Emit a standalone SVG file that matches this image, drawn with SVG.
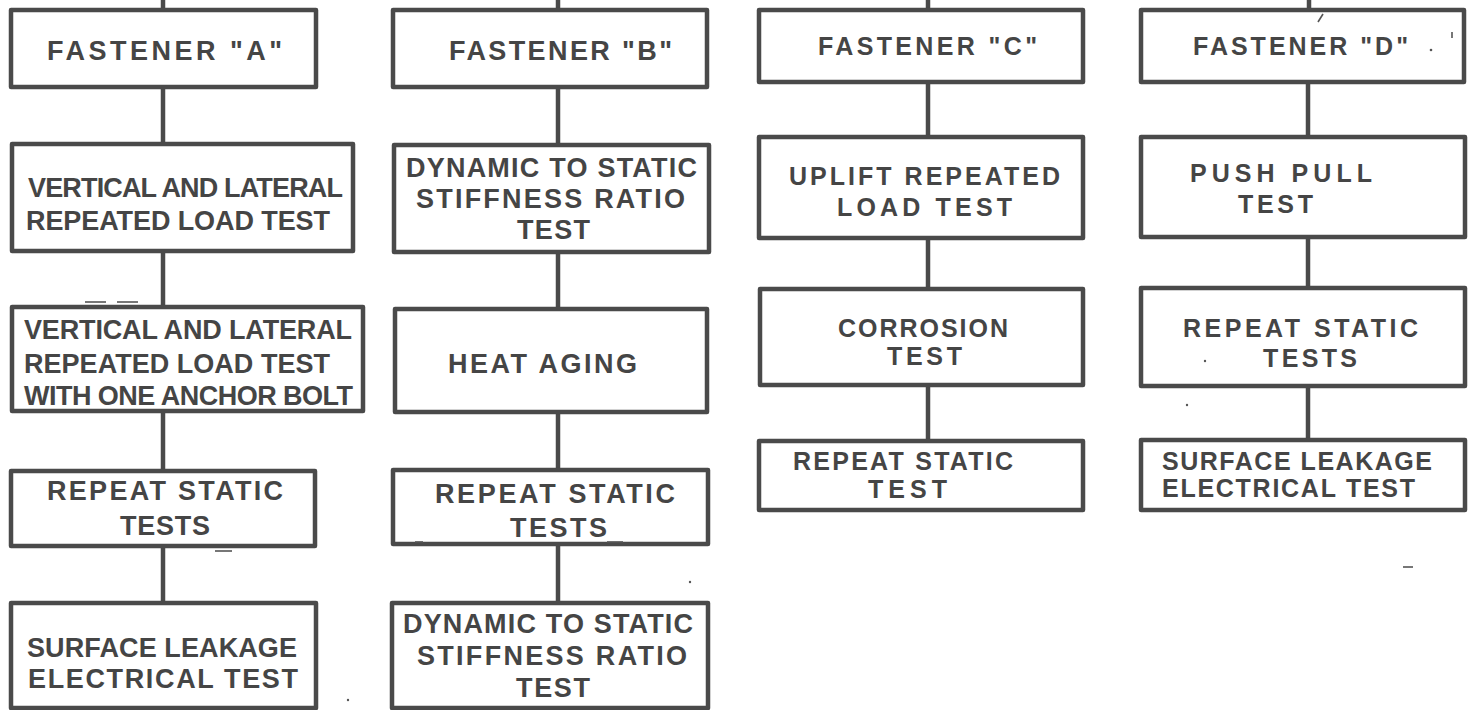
<svg xmlns="http://www.w3.org/2000/svg" width="1474" height="710" viewBox="0 0 1474 710">
<style>
.box{fill:#fff;stroke:#4a4a4a;stroke-width:4.5;stroke-linejoin:round}
.ln{stroke:#4a4a4a;stroke-width:4.5;fill:none}
.mk{stroke:#555;stroke-width:1.6;fill:none}
text{font-family:"Liberation Sans",Arial,sans-serif;font-weight:bold;fill:#454545;lengthAdjust:spacing}
.a{font-size:27px}.b{font-size:27px}.c{font-size:25px}.d{font-size:25px}
</style>
<rect width="1474" height="710" fill="#fff"/>
<g id="connectors">
<line class="ln" x1="163" y1="0" x2="163" y2="10"/>
<line class="ln" x1="163" y1="87" x2="163" y2="144"/>
<line class="ln" x1="163" y1="251" x2="163" y2="307"/>
<line class="ln" x1="163" y1="411" x2="163" y2="471"/>
<line class="ln" x1="163" y1="546" x2="163" y2="603"/>
<line class="ln" x1="558" y1="0" x2="558" y2="10"/>
<line class="ln" x1="558" y1="87" x2="558" y2="145"/>
<line class="ln" x1="558" y1="252" x2="558" y2="309"/>
<line class="ln" x1="558" y1="412" x2="558" y2="470"/>
<line class="ln" x1="558" y1="544" x2="558" y2="603"/>
<line class="ln" x1="928" y1="0" x2="928" y2="10"/>
<line class="ln" x1="928" y1="82" x2="928" y2="137"/>
<line class="ln" x1="928" y1="238" x2="928" y2="289"/>
<line class="ln" x1="928" y1="385" x2="928" y2="441"/>
<line class="ln" x1="1309" y1="0" x2="1309" y2="10"/>
<line class="ln" x1="1308" y1="82" x2="1308" y2="137"/>
<line class="ln" x1="1308" y1="237" x2="1308" y2="288"/>
<line class="ln" x1="1308" y1="386" x2="1308" y2="440"/>
</g>
<g id="fastener-a"><rect class="box" x="11" y="10" width="305" height="77"/><text class="a" x="47" y="60" textLength="235" lengthAdjust="spacing">FASTENER "A"</text></g>
<g id="a-vl-repeated"><rect class="box" x="12" y="144" width="341" height="107"/><text class="a" x="28" y="197" textLength="315" lengthAdjust="spacing">VERTICAL AND LATERAL</text><text class="a" x="26" y="230" textLength="304" lengthAdjust="spacing">REPEATED LOAD TEST</text></g>
<g id="a-vl-one-bolt"><rect class="box" x="12" y="307" width="351" height="104"/><text class="a" x="24" y="339" textLength="328" lengthAdjust="spacing">VERTICAL AND LATERAL</text><text class="a" x="24" y="373" textLength="306" lengthAdjust="spacing">REPEATED LOAD TEST</text><text class="a" x="24" y="405" textLength="329" lengthAdjust="spacing">WITH ONE ANCHOR BOLT</text></g>
<g id="a-repeat-static"><rect class="box" x="11" y="471" width="304" height="75"/><text class="a" x="47" y="500" textLength="236" lengthAdjust="spacing">REPEAT STATIC</text><text class="a" x="120" y="535" textLength="90" lengthAdjust="spacing">TESTS</text></g>
<g id="a-surface-leakage"><rect class="box" x="11" y="603" width="305" height="105"/><text class="a" x="27" y="657" textLength="270" lengthAdjust="spacing">SURFACE LEAKAGE</text><text class="a" x="28" y="688" textLength="270" lengthAdjust="spacing">ELECTRICAL TEST</text></g>
<g id="fastener-b"><rect class="box" x="393" y="10" width="314" height="77"/><text class="b" x="449" y="60" textLength="223" lengthAdjust="spacing">FASTENER "B"</text></g>
<g id="b-dynamic-1"><rect class="box" x="394" y="145" width="315" height="107"/><text class="b" x="406" y="177" textLength="291" lengthAdjust="spacing">DYNAMIC TO STATIC</text><text class="b" x="416" y="208" textLength="269" lengthAdjust="spacing">STIFFNESS RATIO</text><text class="b" x="517" y="239" textLength="73" lengthAdjust="spacing">TEST</text></g>
<g id="b-heat-aging"><rect class="box" x="395" y="309" width="312" height="103"/><text class="b" x="448" y="373" textLength="189" lengthAdjust="spacing">HEAT AGING</text></g>
<g id="b-repeat-static"><rect class="box" x="393" y="470" width="315" height="74"/><text class="b" x="435" y="503" textLength="240" lengthAdjust="spacing">REPEAT STATIC</text><text class="b" x="510" y="537" textLength="97" lengthAdjust="spacing">TESTS</text></g>
<g id="b-dynamic-2"><rect class="box" x="392" y="603" width="316" height="105"/><text class="b" x="403" y="633" textLength="290" lengthAdjust="spacing">DYNAMIC TO STATIC</text><text class="b" x="417" y="665" textLength="270" lengthAdjust="spacing">STIFFNESS RATIO</text><text class="b" x="516" y="697" textLength="74" lengthAdjust="spacing">TEST</text></g>
<g id="fastener-c"><rect class="box" x="759" y="10" width="324" height="72"/><text class="c" x="818" y="55" textLength="219" lengthAdjust="spacing">FASTENER "C"</text></g>
<g id="c-uplift"><rect class="box" x="759" y="137" width="324" height="101"/><text class="c" x="789" y="185" textLength="271" lengthAdjust="spacing">UPLIFT REPEATED</text><text class="c" x="837" y="216" textLength="175" lengthAdjust="spacing">LOAD TEST</text></g>
<g id="c-corrosion"><rect class="box" x="760" y="289" width="323" height="96"/><text class="c" x="838" y="337" textLength="170" lengthAdjust="spacing">CORROSION</text><text class="c" x="887" y="365" textLength="75" lengthAdjust="spacing">TEST</text></g>
<g id="c-repeat-static"><rect class="box" x="759" y="441" width="324" height="69"/><text class="c" x="793" y="470" textLength="220" lengthAdjust="spacing">REPEAT STATIC</text><text class="c" x="868" y="498" textLength="79" lengthAdjust="spacing">TEST</text></g>
<g id="fastener-d"><rect class="box" x="1141" y="10" width="323" height="72"/><text class="d" x="1193" y="55" textLength="215" lengthAdjust="spacing">FASTENER "D"</text></g>
<g id="d-push-pull"><rect class="box" x="1141" y="137" width="324" height="100"/><text class="d" x="1190" y="182" textLength="182" lengthAdjust="spacing">PUSH PULL</text><text class="d" x="1238" y="213" textLength="75" lengthAdjust="spacing">TEST</text></g>
<g id="d-repeat-static"><rect class="box" x="1141" y="288" width="324" height="98"/><text class="d" x="1183" y="337" textLength="235" lengthAdjust="spacing">REPEAT STATIC</text><text class="d" x="1263" y="367" textLength="94" lengthAdjust="spacing">TESTS</text></g>
<g id="d-surface-leakage"><rect class="box" x="1141" y="440" width="324" height="70"/><text class="d" x="1162" y="470" textLength="270" lengthAdjust="spacing">SURFACE LEAKAGE</text><text class="d" x="1162" y="497" textLength="253" lengthAdjust="spacing">ELECTRICAL TEST</text></g>
<g id="scan-marks">
<line class="mk" x1="85" y1="302" x2="106" y2="302"/><line class="mk" x1="117" y1="302" x2="138" y2="302"/>
<line class="mk" x1="215" y1="551" x2="232" y2="551"/>
<line class="mk" x1="415" y1="542" x2="423" y2="542"/><line class="mk" x1="607" y1="542" x2="623" y2="542"/>
<line class="mk" x1="1403" y1="567" x2="1413" y2="567"/>
<line class="mk" x1="1318" y1="22" x2="1323" y2="14"/>
<line class="mk" x1="1452" y1="32" x2="1452" y2="38"/>
<circle cx="1431" cy="50" r="1.3" fill="#555"/>
<circle cx="1205" cy="361" r="1.2" fill="#555"/>
<circle cx="1187" cy="405" r="1.2" fill="#555"/>
<circle cx="690" cy="582" r="1.2" fill="#555"/>
<circle cx="348" cy="700" r="1.2" fill="#555"/>
</g>
</svg>
